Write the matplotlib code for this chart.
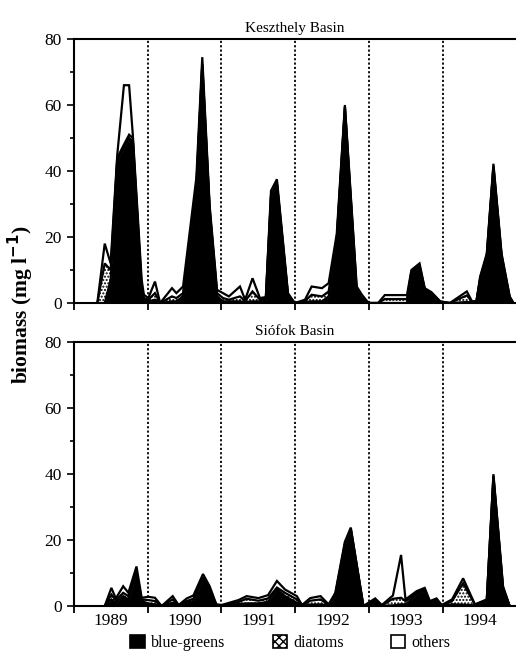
import numpy as np
import matplotlib.pyplot as plt
from matplotlib.patches import Patch

# Global settings
plt.rcParams['font.family'] = ['Liberation Serif', 'DejaVu Serif']
plt.rcParams['hatch.linewidth'] = 1.0

# Keszthely Basin (time in decimal years, biomass mg/l)
kesz_t = [1989.32, 1989.42, 1989.50, 1989.59, 1989.68, 1989.75, 1989.80, 1989.92, 1989.95,
          1990.01, 1990.10, 1990.17, 1990.33, 1990.39, 1990.48, 1990.66, 1990.74, 1990.84,
          1990.94, 1991.02, 1991.10, 1991.25, 1991.32, 1991.42, 1991.52, 1991.60, 1991.67,
          1991.75, 1991.90, 1991.99, 1992.13, 1992.22, 1992.36, 1992.45, 1992.56, 1992.67,
          1992.83, 1992.90, 1992.99, 1993.12, 1993.21, 1993.51, 1993.57, 1993.68, 1993.75,
          1993.84, 1993.96, 1994.09, 1994.32, 1994.39, 1994.45, 1994.50, 1994.59, 1994.68,
          1994.79, 1994.90, 1994.95]
kesz_bluegreens = [0, 0, 7, 43, 47, 50, 49, 4, 1,
                   0.5, 1, 0, 0.5, 0.5, 2, 35, 72, 28,
                   2, 0.5, 0.5, 0.5, 0.3, 0.5, 0.5, 1, 32,
                   36, 2, 0, 0.3, 0.5, 0.5, 2, 19, 59,
                   3, 1, 0, 0, 0, 0, 9, 11, 4,
                   2.8, 0.3, 0, 0.3, 0.2, 0.5, 7, 14, 41,
                   14, 1.5, 0]
kesz_diatoms = [0, 12, 3, 1, 1, 1, 1, 1, 0.5,
                0.5, 2, 0, 1.5, 1, 1, 0.5, 0.5, 0.5,
                1, 1, 0.5, 1.5, 0.3, 3, 0.5, 0.3, 0.5,
                0.5, 0.5, 0, 0.3, 2, 1.5, 1.5, 0.5, 0.5,
                1, 0.5, 0, 0, 1.2, 1.2, 0.5, 0.3, 0.3,
                0.3, 0.1, 0, 2, 0.2, 0, 0.5, 0.5, 0.5,
                0.5, 0.3, 0]
kesz_others = [0, 6, 2, 1, 18, 15, 1, 2, 1,
               0.5, 3.5, 0, 2.5, 1.5, 2, 2.5, 2, 1,
               1, 1.5, 1, 3, 0.4, 4, 0.5, 0.5, 1.5,
               1, 0.5, 0, 0.4, 2.5, 2.5, 2.5, 1.5, 0.5,
               1, 1, 0, 0, 1.2, 1.2, 0.5, 0.7, 0.2,
               0.2, 0.1, 0, 1.2, 0.1, 0, 0.5, 0.5, 0.7,
               0.5, 0.2, 0]

# Siofok Basin
sio_t = [1989.42, 1989.51, 1989.57, 1989.67, 1989.74, 1989.85, 1989.92, 1990.01, 1990.10,
         1990.19, 1990.34, 1990.42, 1990.53, 1990.62, 1990.75, 1990.84, 1990.93, 1991.00,
         1991.23, 1991.34, 1991.50, 1991.63, 1991.75, 1991.86, 1992.02, 1992.09, 1992.20,
         1992.34, 1992.45, 1992.54, 1992.67, 1992.75, 1992.92, 1993.08, 1993.17, 1993.32,
         1993.43, 1993.49, 1993.64, 1993.75, 1993.82, 1993.91, 1993.98, 1994.12, 1994.27,
         1994.43, 1994.59, 1994.68, 1994.81, 1994.90]
sio_bluegreens = [0, 2, 1, 3, 2, 10, 1.5, 0.8, 0.5,
                  0, 1, 0.1, 1, 1.5, 8, 4.5, 0.3, 0.1,
                  0.6, 0.8, 0.8, 1.3, 5, 3, 1, 0.1, 0.4,
                  0.5, 0.2, 3, 18.5, 23, 0, 1, 0.1, 0.2,
                  0.5, 0.5, 3.5, 4.5, 0.8, 1.3, 0.1, 0.5, 0.4,
                  0.2, 1.5, 39, 5, 0]
sio_diatoms = [0, 1.5, 0.7, 1, 1, 0.5, 0.5, 1, 1,
               0, 1, 0.1, 0.5, 0.7, 0.7, 0.5, 0.1, 0.1,
               0.6, 1.4, 0.8, 1, 0.6, 1, 1, 0.1, 1.2,
               1.5, 0.2, 0.4, 0.5, 0.4, 0, 0.6, 0.1, 2,
               2, 1, 0.5, 0.5, 0.4, 0.5, 0.1, 1, 6.5,
               0.2, 0.3, 0.5, 0.5, 0]
sio_others = [0, 2, 0.6, 2, 1, 1.5, 0.5, 1, 1,
              0, 1, 0.1, 0.8, 1, 1, 1, 0.1, 0.1,
              0.6, 0.8, 0.8, 1, 2, 1, 1, 0.1, 0.8,
              1, 0.1, 0.6, 0.5, 0.4, 0, 0.7, 0.1, 1,
              13, 0.5, 0.5, 0.5, 0.3, 0.5, 0.1, 0.5, 1.5,
              0.1, 0.2, 0.5, 0.5, 0]

year_labels = ['1989', '1990', '1991', '1992', '1993', '1994']


def draw_panel(ax, t, bg, di, ot, title):
    t = np.array(t)
    bg = np.array(bg, dtype=float)
    top_di = bg + np.array(di)
    top_ot = top_di + np.array(ot)

    ax.fill_between(t, 0, bg, facecolor='black', edgecolor='black', linewidth=0)
    ax.fill_between(t, bg, top_di, facecolor='white', edgecolor='black', hatch='.....', linewidth=0)
    ax.fill_between(t, top_di, top_ot, facecolor='white', edgecolor='none', linewidth=0)
    for level in (bg, top_di, top_ot):
        ax.plot(t, level, color='black', linewidth=1.6, solid_joinstyle='miter')

    for yr in range(1990, 1995):
        ax.axvline(yr, color='black', linestyle=(0, (1.2, 1.2)), linewidth=1.3, zorder=0)

    ax.set_xlim(1989, 1994.97)
    ax.set_ylim(0, 80)
    ax.set_yticks([0, 20, 40, 60, 80])
    ax.set_yticks([10, 30, 50, 70], minor=True)
    ax.set_xticks(range(1989, 1995))
    ax.set_xticklabels([])
    ax.set_xticks(np.arange(1989.5, 1995, 1.0), minor=True)
    ax.set_xticklabels(year_labels, minor=True)
    ax.tick_params(axis='x', which='major', direction='out', length=5, width=1.3)
    ax.tick_params(axis='x', which='minor', length=0, pad=5, labelsize=12.5)
    ax.tick_params(axis='y', which='both', direction='out', width=1.2, labelsize=12.5)
    ax.tick_params(axis='y', which='major', length=5)
    ax.tick_params(axis='y', which='minor', length=3)
    ax.spines['right'].set_visible(False)
    for s in ('left', 'bottom', 'top'):
        ax.spines[s].set_linewidth(1.5)
    ax.set_title(title, fontsize=11, pad=5)


fig = plt.figure(figsize=(5.16, 6.58), dpi=100)
ax1 = fig.add_axes([0.1428, 0.5395, 0.855, 0.4012])
ax2 = fig.add_axes([0.1428, 0.0790, 0.855, 0.4008])

draw_panel(ax1, kesz_t, kesz_bluegreens, kesz_diatoms, kesz_others, 'Keszthely Basin')
ax1.tick_params(axis='x', which='minor', labelbottom=False)
draw_panel(ax2, sio_t, sio_bluegreens, sio_diatoms, sio_others, 'Siófok Basin')

fig.text(0.040, 1 - 305 / 658, 'biomass (mg l$^{\\mathbf{-1}}$)', rotation=90, ha='center', va='center',
         fontsize=15.5, fontweight='bold')

# Legend
handles = [Patch(facecolor='black', edgecolor='black', linewidth=1.2),
           Patch(facecolor='white', edgecolor='black', hatch='xxxx', linewidth=1.2),
           Patch(facecolor='white', edgecolor='black', linewidth=1.2)]
fig.legend(handles, ['blue-greens', 'diatoms', 'others'], loc='center', ncol=3,
           bbox_to_anchor=(0.563, 1 - 643 / 658), frameon=False, fontsize=11.5,
           handlelength=0.9, handleheight=0.9, handletextpad=0.4, columnspacing=2.95)

fig.savefig('out.png', dpi=100)
